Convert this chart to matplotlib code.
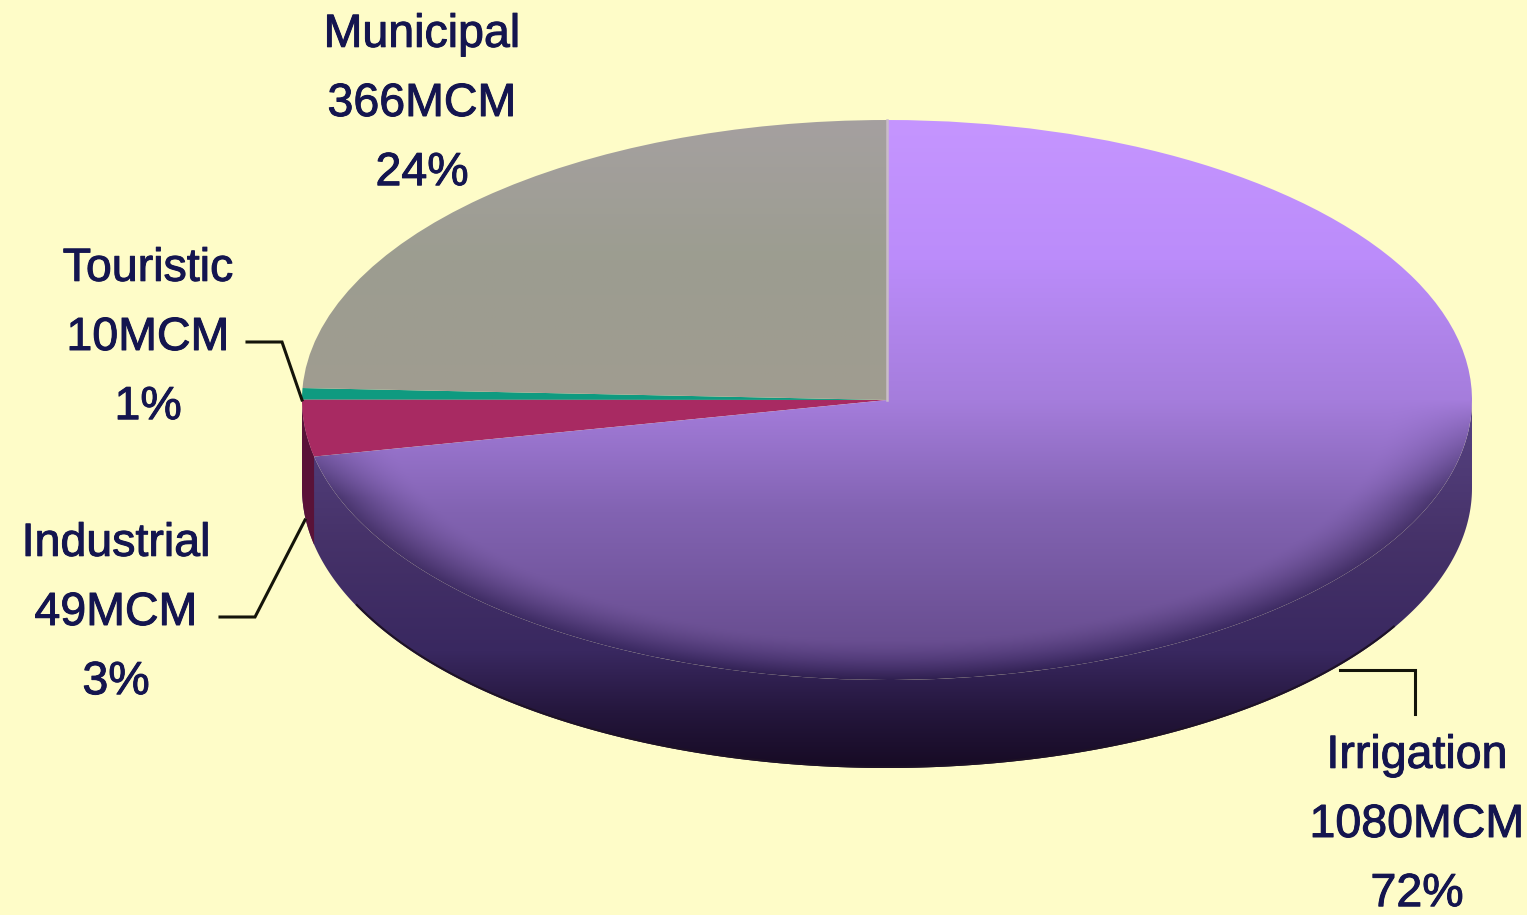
import numpy as np
import matplotlib
matplotlib.use("Agg")
import matplotlib.pyplot as plt
import matplotlib.patheffects as pe
from matplotlib.colors import to_rgb
from matplotlib.patches import Polygon

names = ["Municipal", "Touristic", "Industrial", "Irrigation"]
volumes = [366, 10, 49, 1080]
percents = [24, 1, 3, 72]

# label centres and leader lines, in pixels from the top left
label_xy = [(422, 104), (148, 338), (116, 613), (1417, 825)]
leaders = [None,
           [(247, 342), (282, 342), (302, 400)],
           [(220, 617), (255, 617), (305, 520)],
           [(1340, 670), (1415, 670), (1415, 714)]]

W, H = 1527, 915
CX, CY, RX, RY = 887, 400, 585, 280
DEPTH = 88
BG = "#fefcc8"
TEXT = "#14154f"


def to_data(x, y):
    return (x - CX) / RX, (CY - y) / RY


def vertical_image(ys, stops):
    # RGB column running from the bottom of the image to the top
    pos = [s[0] for s in stops]
    cols = np.array([to_rgb(s[1]) for s in stops])
    return np.stack([np.interp(ys, pos, cols[:, i]) for i in range(3)], axis=-1)


fig = plt.figure(figsize=(W / 100, H / 100), dpi=100, facecolor=BG)
ax = fig.add_axes([0, 0, 1, 1])

wedges, _ = ax.pie(volumes, startangle=90, counterclock=True,
                   colors=["#9d9c92", "#0f9a80", "#a82a62", "#a67cdc"],
                   wedgeprops=dict(linewidth=0), frame=False)
ax.set_aspect("auto")
ax.axis("off")
for w in wedges:
    w.set_zorder(3)

# extruded rim below the ellipse
dz = DEPTH / RY
rim_stops = [(-1 - dz, "#170b24"), (-1.12, "#24163c"), (-0.9, "#392860"),
             (-0.5, "#463269"), (-0.1, "#54407e"), (1, "#6a5095")]
gy = np.linspace(-1 - dz, 1, 400)
gx = np.linspace(-1, 1, 600)
side_img = np.repeat(vertical_image(gy, rim_stops)[:, None, :], len(gx), axis=1)

t = np.radians(np.linspace(180, 360, 300))
rim = np.concatenate([np.c_[np.cos(t), np.sin(t) - dz],
                      np.c_[np.cos(t[::-1]), np.sin(t[::-1])]])
rim_patch = Polygon(rim, closed=True, fc="none", ec="none", zorder=1)
ax.add_patch(rim_patch)
rim_im = ax.imshow(side_img, extent=(-1, 1, -1 - dz, 1), origin="lower",
                   aspect="auto", zorder=1)
rim_im.set_clip_path(rim_patch)

# dark line along the front of the rim, kept inside the rim shape
t_front = np.radians(np.linspace(205, 330, 200))
front, = ax.plot(np.cos(t_front), np.sin(t_front) - dz, color="#1e1226",
                 lw=3, zorder=2)
front.set_clip_path(rim_patch)

# crimson part of the rim under the industrial slice
ind = wedges[names.index("Industrial")]
t = np.radians(np.linspace(180, ind.theta2, 30))
ax.add_patch(Polygon(np.concatenate([np.c_[np.cos(t), np.sin(t) - dz],
                                     np.c_[np.cos(t[::-1]), np.sin(t[::-1])]]),
                     closed=True, fc="#5a1238", ec="none", zorder=2))

# shaded top of the irrigation slice, melting into the rim toward the front
xx, yy = np.meshgrid(gx, np.linspace(-1, 1, 500))
top = vertical_image(yy[:, 0], [(-1, "#5c4284"), (-0.85, "#6a4f92"),
                                (-0.4, "#8263b2"), (0, "#a57ddc"),
                                (0.5, "#bb8cfa"), (1, "#c595ff")])
top = np.repeat(top[:, None, :], len(gx), axis=1)
r = np.hypot(xx, yy)
edge = np.clip((r - 0.86) / 0.14, 0, 1) ** 1.5 * np.clip(-yy / 0.35, 0, 1)
under = np.repeat(vertical_image(yy[:, 0], rim_stops)[:, None, :], len(gx), axis=1)
top = top * (1 - edge[..., None]) + under * edge[..., None]
irr = wedges[names.index("Irrigation")]
irr.set_facecolor("none")
irr_im = ax.imshow(top, extent=(-1, 1, -1, 1), origin="lower", aspect="auto", zorder=4)
irr_im.set_clip_path(irr)

# municipal slice is a flat grey with a slightly warmer middle
mun = wedges[names.index("Municipal")]
mun.set_facecolor("none")
grey = vertical_image(yy[:, 0], [(0, "#a09c90"), (0.5, "#9c9d90"), (1, "#a5a0a0")])
grey_im = ax.imshow(np.repeat(grey[:, None, :], len(gx), axis=1),
                    extent=(-1, 1, -1, 1), origin="lower", aspect="auto", zorder=4)
grey_im.set_clip_path(mun)

# pale seam between the grey and purple slices
ax.plot([0, 0], [0, 1], color="#c9bcc8", lw=1.8, zorder=5)

for leader in leaders:
    if leader is None:
        continue
    pts = np.array([to_data(*p) for p in leader])
    ax.plot(pts[:, 0], pts[:, 1], color="#14140a", lw=2.2, zorder=6,
            solid_joinstyle="miter")

for name, vol, pct, (lx, ly) in zip(names, volumes, percents, label_xy):
    x, y = to_data(lx, ly)
    ax.text(x, y, f"{name}\n{vol}MCM\n{pct}%", ha="center", va="center",
            ma="center", family="Liberation Sans", fontsize=33.5,
            color=TEXT, linespacing=1.74, zorder=7,
            path_effects=[pe.withStroke(linewidth=0.7, foreground=TEXT)])

ax.set_xlim((0 - CX) / RX, (W - CX) / RX)
ax.set_ylim((CY - H) / RY, CY / RY)
fig.savefig("out.png", dpi=100, facecolor=BG)
